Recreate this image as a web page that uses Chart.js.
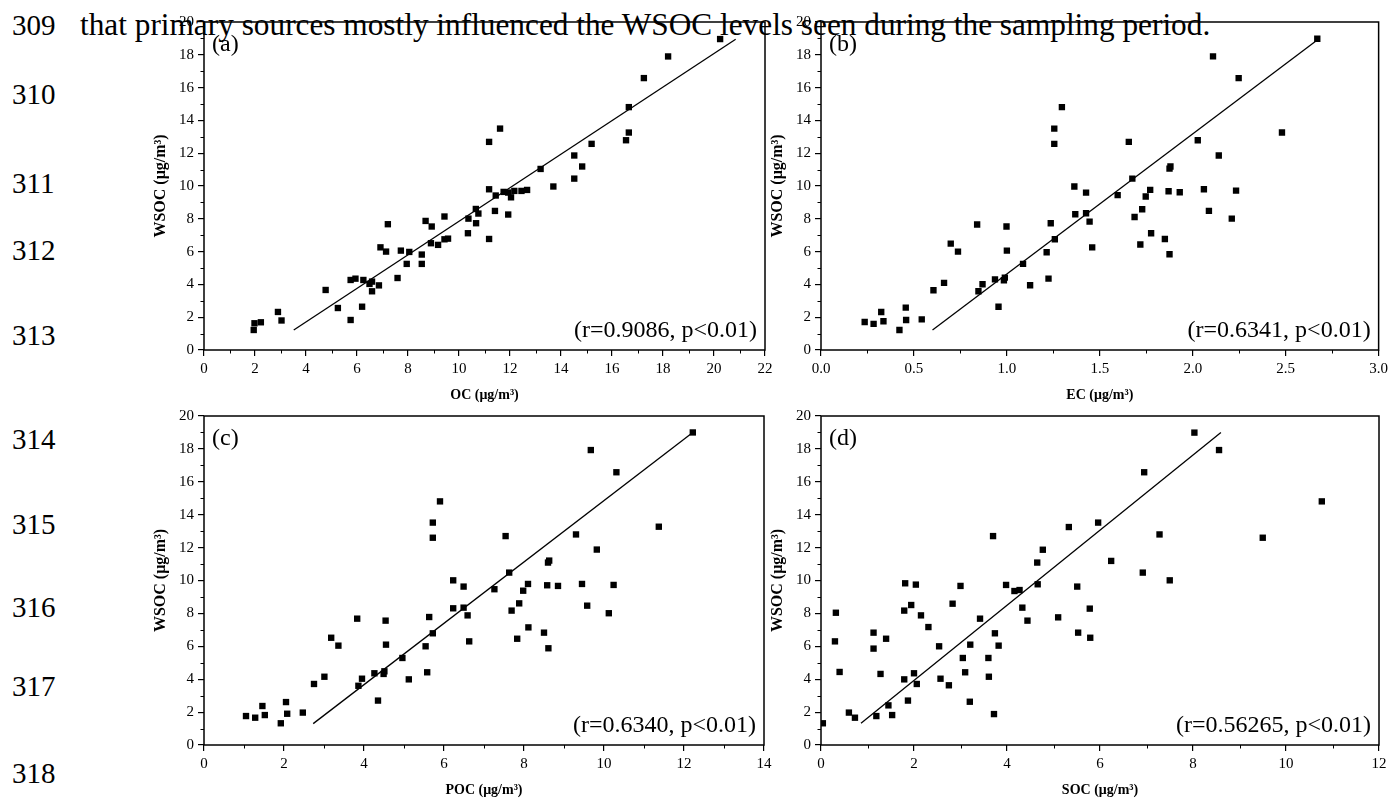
<!DOCTYPE html>
<html lang="en">
<head>
<meta charset="UTF-8">
<title>WSOC vs OC, EC, POC and SOC</title>
<script src="https://cdn.jsdelivr.net/npm/chart.js"></script>
<style>
  body { margin: 0; background: #fff; width: 1392px; height: 803px; position: relative; overflow: hidden;
         font-family: "Liberation Serif", "Times New Roman", serif; color: #000; }
  .ln { position: absolute; left: 12px; font-size: 29px; line-height: 29px; }
  #sentence { position: absolute; left: 80px; top: 9px; font-size: 31.3px; line-height: 31.3px; white-space: nowrap; }
  canvas { position: absolute; }
</style>
</head>
<body>
<div id="sentence">that primary sources mostly influenced the WSOC levels seen during the sampling period.</div>
<canvas id="chartA" width="640" height="410" style="left:140px;top:0px"></canvas>
<canvas id="chartB" width="635" height="410" style="left:757px;top:0px"></canvas>
<canvas id="chartC" width="640" height="403" style="left:140px;top:400px"></canvas>
<canvas id="chartD" width="635" height="403" style="left:757px;top:400px"></canvas>
<script>
// line numbers of the manuscript page
const lineNumbers = [309, 310, 311, 312, 313, 314, 315, 316, 317, 318];
const lineTops = [11, 80, 169, 236, 321, 425, 510, 593, 672, 759];

// (a) OC vs WSOC
const ocX = [1.95, 1.98, 2.23, 2.9, 3.04, 4.77, 5.25, 5.75, 5.75, 5.94, 6.2, 6.25, 6.49, 6.59, 6.59, 6.86, 6.92, 7.14, 7.21, 7.59,
  7.72, 7.95, 8.05, 8.54, 8.54, 8.69, 8.93, 8.9, 9.18, 9.43, 9.43, 9.57, 10.35, 10.37, 10.66, 10.67, 10.76, 11.18, 11.18, 11.18,
  11.44, 11.41, 11.61, 11.75, 11.93, 11.93, 12.04, 12.17, 12.45, 12.67, 13.2, 13.7, 14.52, 14.52, 14.83, 15.2, 16.55, 16.66, 16.66, 17.25,
  18.2, 20.24];
const ocY = [1.22, 1.63, 1.69, 2.32, 1.8, 3.66, 2.56, 1.83, 4.27, 4.35, 2.64, 4.27, 4.03, 4.17, 3.58, 3.94, 6.26, 6.0, 7.67, 4.39,
  6.06, 5.25, 5.98, 5.82, 5.25, 7.87, 7.53, 6.51, 6.41, 8.14, 6.75, 6.79, 7.12, 8.01, 8.6, 7.73, 8.32, 12.69, 9.8, 6.77,
  9.42, 8.48, 13.5, 9.64, 9.6, 8.26, 9.31, 9.7, 9.7, 9.76, 11.04, 9.97, 11.86, 10.45, 11.19, 12.57, 12.79, 14.81, 13.26, 16.58,
  17.9, 18.96];
const ocFitX = [3.52, 20.85];
const ocFitY = [1.22, 18.95];

// (b) EC vs WSOC
const ecX = [0.235, 0.283, 0.324, 0.336, 0.422, 0.456, 0.458, 0.542, 0.605, 0.662, 0.698, 0.737, 0.84, 0.847, 0.869, 0.936, 0.955, 0.984, 0.989, 0.998,
  1.0, 1.087, 1.125, 1.214, 1.224, 1.236, 1.255, 1.255, 1.258, 1.296, 1.363, 1.368, 1.426, 1.426, 1.445, 1.459, 1.596, 1.656, 1.675, 1.687,
  1.718, 1.728, 1.747, 1.771, 1.776, 1.85, 1.87, 1.875, 1.88, 1.875, 1.93, 2.027, 2.06, 2.087, 2.109, 2.14, 2.21, 2.233, 2.247, 2.48,
  2.67];
const ecY = [1.71, 1.59, 2.32, 1.75, 1.22, 2.58, 1.83, 1.87, 3.64, 4.09, 6.49, 6.0, 7.65, 3.58, 4.01, 4.31, 2.64, 4.25, 4.41, 7.53,
  6.06, 5.25, 3.95, 5.96, 4.35, 7.73, 13.5, 12.57, 6.75, 14.81, 9.97, 8.28, 9.6, 8.34, 7.83, 6.26, 9.44, 12.69, 10.45, 8.11,
  6.43, 8.58, 9.36, 9.76, 7.12, 6.77, 9.68, 11.06, 11.19, 5.84, 9.62, 12.79, 9.8, 8.48, 17.9, 11.86, 8.01, 9.72, 16.58, 13.26,
  18.98];
const ecFitX = [0.6, 2.67];
const ecFitY = [1.22, 18.9];

// (c) POC vs WSOC
const pocX = [1.05, 1.28, 1.46, 1.52, 1.92, 2.05, 2.08, 2.47, 2.75, 3.01, 3.18, 3.36, 3.83, 3.86, 3.95, 4.26, 4.35, 4.49, 4.51, 4.54,
  4.55, 4.96, 5.12, 5.54, 5.58, 5.63, 5.72, 5.72, 5.72, 5.9, 6.23, 6.23, 6.49, 6.49, 6.59, 6.63, 7.26, 7.54, 7.63, 7.69,
  7.83, 7.88, 7.98, 8.1, 8.11, 8.5, 8.58, 8.6, 8.63, 8.61, 8.85, 9.3, 9.45, 9.58, 9.67, 9.82, 10.12, 10.24, 10.31, 11.37,
  12.22];
const pocY = [1.76, 1.66, 2.37, 1.82, 1.32, 2.61, 1.9, 1.97, 3.71, 4.15, 6.52, 6.04, 7.68, 3.6, 4.03, 4.36, 2.7, 4.32, 4.48, 7.56,
  6.1, 5.29, 3.99, 6.0, 4.42, 7.78, 13.52, 12.6, 6.79, 14.81, 10.01, 8.31, 9.63, 8.35, 7.88, 6.3, 9.47, 12.7, 10.48, 8.17,
  6.46, 8.61, 9.38, 9.79, 7.15, 6.83, 9.71, 11.09, 11.21, 5.88, 9.67, 12.8, 9.79, 8.47, 17.93, 11.88, 8.01, 9.73, 16.58, 13.27,
  19.0];
const pocFitX = [2.73, 12.17];
const pocFitY = [1.3, 18.9];

// (d) SOC vs WSOC
const socX = [0.04, 0.32, 0.3, 0.4, 0.6, 0.73, 1.13, 1.13, 1.19, 1.28, 1.4, 1.45, 1.53, 1.79, 1.79, 1.81, 1.87, 1.94, 2.0, 2.04,
  2.06, 2.15, 2.31, 2.54, 2.57, 2.75, 2.83, 3.0, 3.05, 3.1, 3.2, 3.21, 3.42, 3.6, 3.61, 3.7, 3.72, 3.74, 3.82, 3.98,
  4.16, 4.27, 4.33, 4.44, 4.65, 4.66, 4.77, 5.1, 5.33, 5.51, 5.53, 5.78, 5.79, 5.96, 6.24, 6.92, 6.95, 7.28, 7.5, 8.03,
  8.56, 9.5, 10.77];
const socY = [1.32, 8.04, 6.3, 4.44, 1.97, 1.66, 6.83, 5.86, 1.76, 4.32, 6.46, 2.41, 1.82, 3.99, 8.17, 9.83, 2.7, 8.51, 4.36, 9.75,
  3.71, 7.88, 7.17, 6.0, 4.03, 3.63, 8.59, 9.67, 5.29, 4.42, 2.63, 6.1, 7.68, 5.29, 4.15, 12.7, 1.88, 6.79, 6.04, 9.73,
  9.36, 9.42, 8.35, 7.56, 11.09, 9.77, 11.87, 7.76, 13.25, 9.63, 6.83, 8.29, 6.52, 13.52, 11.19, 10.48, 16.58, 12.8, 10.01, 18.99,
  17.93, 12.6, 14.81];
const socFitX = [0.86, 8.6];
const socFitY = [1.32, 18.99];

const yTitle = 'WSOC (μg/m³)';
const FONT = '"Liberation Serif", "Times New Roman", serif';

lineNumbers.forEach((n, i) => {
    const d = document.createElement('div');
    d.className = 'ln';
    d.style.top = lineTops[i] + 'px';
    d.textContent = n;
    document.body.appendChild(d);
});

// minor ticks, frame and the text inside each panel
const panelDecor = {
    id: 'panelDecor',
    afterDraw(chart, args, opts) {
        const ctx = chart.ctx;
        const a = chart.chartArea;
        ctx.save();
        ctx.strokeStyle = '#000';
        ctx.lineWidth = 1;
        ['x', 'y'].forEach(k => {
            const s = chart.scales[k];
            for (let i = 0; i < s.ticks.length - 1; i++) {
                const v = (s.ticks[i].value + s.ticks[i + 1].value) / 2;
                const p = Math.round(s.getPixelForValue(v)) + 0.5;
                ctx.beginPath();
                if (k === 'x') { ctx.moveTo(p, a.bottom); ctx.lineTo(p, a.bottom + 3.5); }
                else { ctx.moveTo(a.left, p); ctx.lineTo(a.left - 3.5, p); }
                ctx.stroke();
            }
        });
        ctx.lineWidth = 1.5;
        ctx.strokeRect(a.left, a.top, a.right - a.left, a.bottom - a.top);

        ctx.fillStyle = '#000';
        ctx.font = '24px ' + FONT;
        ctx.textAlign = 'left';
        ctx.textBaseline = 'top';
        ctx.fillText(opts.label, a.left + 8, a.top + 11);
        ctx.textAlign = 'right';
        ctx.textBaseline = 'alphabetic';
        ctx.fillText(opts.stat, a.right - 8, a.bottom - 13);
        ctx.restore();
    }
};

function makePanel(id, p) {
    const ctx = document.getElementById(id).getContext('2d');
    const tickFont = { family: FONT, size: 15 };
    const gridOpts = { drawOnChartArea: false, drawTicks: true, tickLength: 6, color: '#000', lineWidth: 1.2 };
    return new Chart(ctx, {
        type: 'scatter',
        data: {
            datasets: [{
                data: p.xs.map((x, i) => ({ x: x, y: p.ys[i] })),
                backgroundColor: '#000',
                borderWidth: 0,
                pointStyle: 'rect',
                pointRadius: 4.5,
                pointHoverRadius: 4.5
            }, {
                type: 'line',
                data: p.fitX.map((x, i) => ({ x: x, y: p.fitY[i] })),
                borderColor: '#000',
                borderWidth: 1.3,
                pointRadius: 0,
                fill: false
            }]
        },
        options: {
            responsive: false,
            animation: false,
            devicePixelRatio: 1,
            layout: { padding: p.padding },
            plugins: {
                legend: { display: false },
                tooltip: { enabled: false },
                panelDecor: { label: p.label, stat: p.stat }
            },
            scales: {
                x: {
                    type: 'linear',
                    min: 0,
                    max: p.xMax,
                    ticks: { stepSize: p.xStep, autoSkip: false, maxRotation: 0, color: '#000', font: tickFont, padding: 4,
                             callback: v => p.xStep < 1 ? v.toFixed(1) : String(v) },
                    grid: gridOpts,
                    border: { display: false },
                    title: { display: true, text: p.xTitle, color: '#000',
                             font: { family: FONT, size: 14, weight: 'bold' }, padding: { top: 0, bottom: p.xTitlePad } },
                    afterFit: s => { s.height = p.xAxisH; }
                },
                y: {
                    min: 0,
                    max: 20,
                    ticks: { stepSize: 2, autoSkip: false, color: '#000', font: tickFont, padding: 4 },
                    grid: gridOpts,
                    border: { display: false },
                    title: { display: true, text: yTitle, color: '#000',
                             font: { family: FONT, size: 16, weight: 'bold' }, padding: { top: 11, bottom: 0 } },
                    afterFit: s => { s.width = 64; }
                }
            }
        },
        plugins: [panelDecor]
    });
}

makePanel('chartA', { xs: ocX, ys: ocY, fitX: ocFitX, fitY: ocFitY, xMax: 22, xStep: 2, xTitle: 'OC (μg/m³)',
    label: '(a)', stat: '(r=0.9086, p<0.01)', padding: { left: 0, top: 22, right: 15, bottom: 0 }, xAxisH: 60, xTitlePad: 6 });
makePanel('chartB', { xs: ecX, ys: ecY, fitX: ecFitX, fitY: ecFitY, xMax: 3, xStep: 0.5, xTitle: 'EC (μg/m³)',
    label: '(b)', stat: '(r=0.6341, p<0.01)', padding: { left: 0, top: 22, right: 13, bottom: 0 }, xAxisH: 60, xTitlePad: 6 });
makePanel('chartC', { xs: pocX, ys: pocY, fitX: pocFitX, fitY: pocFitY, xMax: 14, xStep: 2, xTitle: 'POC (μg/m³)',
    label: '(c)', stat: '(r=0.6340, p<0.01)', padding: { left: 0, top: 16, right: 16, bottom: 0 }, xAxisH: 58, xTitlePad: 4 });
makePanel('chartD', { xs: socX, ys: socY, fitX: socFitX, fitY: socFitY, xMax: 12, xStep: 2, xTitle: 'SOC (μg/m³)',
    label: '(d)', stat: '(r=0.56265, p<0.01)', padding: { left: 0, top: 16, right: 13, bottom: 0 }, xAxisH: 58, xTitlePad: 4 });
</script>
</body>
</html>
